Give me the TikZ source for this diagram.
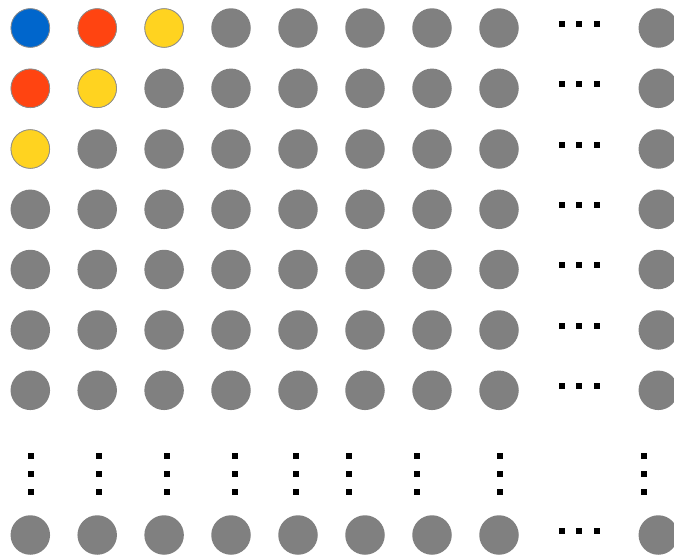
\documentclass[tikz,border=0pt]{standalone}
\definecolor{cblue}{HTML}{0066CC}
\definecolor{cred}{HTML}{FF4411}
\definecolor{cyel}{HTML}{FFD320}
\definecolor{cgray}{HTML}{808080}
\begin{document}
\begin{tikzpicture}[x=1pt,y=-1pt,
  ball/.style={circle,inner sep=0pt,minimum size=39.5pt,fill=cgray},
  cball/.style={ball,draw=cgray!90,line width=0.6pt,minimum size=38.5pt},
  sq/.style={fill=black}]
\useasboundingbox (0,0) rectangle (674,555);
% main grid
\foreach \r/\y in {1/28,2/88.3,3/149,4/209.3,5/269.5,6/330,7/390.3,9/535}{
  \foreach \c/\x in {1/30.3,2/97.2,3/164.1,4/231,5/298,6/365,7/432,8/499,10/658.3}{
    \node[ball] (b\r-\c) at (\x,\y) {};
  }
  % horizontal ellipsis
  \foreach \dx in {561.5,579.3,597.2}{
    \fill[sq] (\dx-3,\y-7.5) rectangle (\dx+3,\y-1.5);
  }
}
% coloured balls
\node[cball,fill=cblue] (k1) at (b1-1) {};
\node[cball,fill=cred]  (k2) at (b1-2) {};
\node[cball,fill=cred]  (k3) at (b2-1) {};
\node[cball,fill=cyel]  (k4) at (b1-3) {};
\node[cball,fill=cyel]  (k5) at (b2-2) {};
\node[cball,fill=cyel]  (k6) at (b3-1) {};
% vertical ellipsis
\foreach \vx in {31,99,167,235,296,349,417,500,644}{
  \foreach \vy in {456,473.7,491.7}{
    \fill[sq] (\vx-3,\vy-3) rectangle (\vx+3,\vy+3);
  }
}
\end{tikzpicture}
\end{document}
